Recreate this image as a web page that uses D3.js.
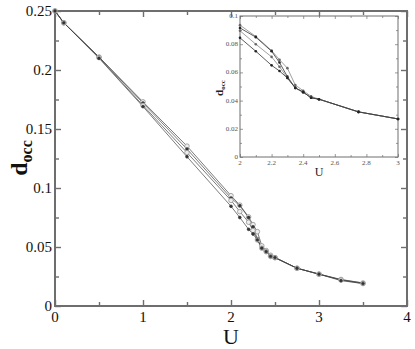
<!DOCTYPE html>
<html><head><meta charset="utf-8">
<script src="https://cdn.jsdelivr.net/npm/d3@7"></script>
<style>body{margin:0;background:#fff}svg{display:block}</style>
</head><body>
<script>
// ---- data ----
const uValues = [0, 0.1, 0.5, 1, 1.5, 2, 2.1, 2.2, 2.25, 2.3, 2.35, 2.4, 2.45, 2.5, 2.75, 3, 3.25, 3.5];
const seriesA = [0.25, 0.240, 0.211, 0.173, 0.1355, 0.0935, 0.0855, 0.0755, 0.069, 0.063, 0.051, 0.047, 0.043, 0.041, 0.032, 0.027, 0.0225, 0.0195];
const seriesB = [0.25, 0.240, 0.211, 0.172, 0.133, 0.0915, 0.085, 0.075, 0.067, 0.057, 0.049, 0.046, 0.042, 0.041, 0.032, 0.027, 0.0222, 0.0195];
const seriesC = [0.25, 0.240, 0.2105, 0.170, 0.130, 0.0895, 0.080, 0.071, 0.064, 0.056, 0.049, 0.046, 0.042, 0.041, 0.032, 0.027, 0.022, 0.019];
const seriesD = [0.25, 0.240, 0.210, 0.169, 0.1265, 0.0845, 0.075, 0.065, 0.061, 0.056, 0.049, 0.046, 0.042, 0.041, 0.032, 0.027, 0.0215, 0.019];
const seriesList = [seriesA, seriesB, seriesC, seriesD];
const mainXTicks = [0, 1, 2, 3, 4];
const mainYTicks = [0, 0.05, 0.1, 0.15, 0.2, 0.25];
const mainYTickLabels = ["0", "0.05", "0.1", "0.15", "0.2", "0.25"];
const insetXTicks = [2, 2.2, 2.4, 2.6, 2.8, 3];
const insetYTicks = [0, 0.02, 0.04, 0.06, 0.08, 0.1];

const W = 415, H = 349;
const svg = d3.select("body").append("svg").attr("width", W).attr("height", H);
const serif = "'Liberation Serif','DejaVu Serif',serif";
const frameCol = "#6e6e6e";

// ---- main plot ----
const L = 55, R = 407, T = 11, B = 306;
const x = d3.scaleLinear().domain([0, 4]).range([L, R]);
const y = d3.scaleLinear().domain([0, 0.25]).range([B, T]);

function frame(g, xs, ys, xMaj, xMin, yMaj, yMin, lenMaj, lenMin, sw) {
  const [x0, x1] = xs.range(), [y0, y1] = ys.range();
  g.append("g").attr("transform", `translate(0,${y0})`)
    .call(d3.axisBottom(xs).tickValues(xMin).tickSize(-lenMin).tickFormat(""));
  g.append("g").attr("transform", `translate(0,${y0})`)
    .call(d3.axisBottom(xs).tickValues(xMaj).tickSize(-lenMaj).tickFormat(""));
  g.append("g").attr("transform", `translate(0,${y1})`)
    .call(d3.axisTop(xs).tickValues(xMin).tickSize(-lenMin).tickFormat(""));
  g.append("g").attr("transform", `translate(0,${y1})`)
    .call(d3.axisTop(xs).tickValues(xMaj).tickSize(-lenMaj).tickFormat(""));
  g.append("g").attr("transform", `translate(${x0},0)`)
    .call(d3.axisLeft(ys).tickValues(yMin).tickSize(-lenMin).tickFormat(""));
  g.append("g").attr("transform", `translate(${x0},0)`)
    .call(d3.axisLeft(ys).tickValues(yMaj).tickSize(-lenMaj).tickFormat(""));
  g.append("g").attr("transform", `translate(${x1},0)`)
    .call(d3.axisRight(ys).tickValues(yMin).tickSize(-lenMin).tickFormat(""));
  g.append("g").attr("transform", `translate(${x1},0)`)
    .call(d3.axisRight(ys).tickValues(yMaj).tickSize(-lenMaj).tickFormat(""));
  g.selectAll(".domain").remove();
  g.selectAll(".tick line").attr("stroke", frameCol).attr("stroke-width", sw * 0.7);
  g.append("rect").attr("x", x0).attr("y", y1).attr("width", x1 - x0).attr("height", y0 - y1)
    .attr("fill", "none").attr("stroke", frameCol).attr("stroke-width", sw);
}

const gMain = svg.append("g");
frame(gMain, x, y, mainXTicks, [0.5, 1.5, 2.5, 3.5], mainYTicks, [0.025, 0.075, 0.125, 0.175, 0.225], 6, 4, 2);

gMain.selectAll(".xl").data(mainXTicks).enter().append("text")
  .attr("x", d => x(d)).attr("y", B + 16).attr("text-anchor", "middle")
  .attr("font-family", serif).attr("font-size", 15).attr("fill", "#111").text(d => d);
gMain.selectAll(".yl").data(mainYTicks).enter().append("text")
  .attr("x", L - 3).attr("y", d => y(d) + 5).attr("text-anchor", "end")
  .attr("font-family", serif).attr("font-size", 15).attr("fill", "#111")
  .text((d, i) => mainYTickLabels[i]);
svg.append("text").attr("x", x(2)).attr("y", 344).attr("text-anchor", "middle")
  .attr("font-family", serif).attr("font-size", 22).attr("fill", "#111").text("U");
const yl = svg.append("text").attr("transform", "translate(27,158) rotate(-90)")
  .attr("text-anchor", "middle").attr("font-family", serif).attr("font-weight", "bold")
  .attr("font-size", 24).attr("fill", "#111");
yl.append("tspan").text("d");
yl.append("tspan").attr("font-size", 16).attr("dy", 5).text("occ");

const lineMain = d3.line().x((d, i) => x(uValues[i])).y(d => y(d));
seriesList.forEach((s, k) => {
  gMain.append("path").attr("d", lineMain(s)).attr("fill", "none")
    .attr("stroke", "#444").attr("stroke-width", 0.7);
});
seriesList.forEach((s, k) => {
  gMain.selectAll(null).data(s).enter().append("circle")
    .attr("cx", (d, i) => x(uValues[i])).attr("cy", d => y(d)).attr("r", k % 2 ? 1.4 : 2.3)
    .attr("fill", k % 2 ? "#333" : "#eee").attr("stroke", k % 2 ? "#333" : "#888").attr("stroke-width", 0.7);
});

// ---- inset ----
const iL = 240, iR = 398, iT = 16, iB = 157;
const xi = d3.scaleLinear().domain([2, 3]).range([iL, iR]);
const yi = d3.scaleLinear().domain([0, 0.1]).range([iB, iT]);
const gIn = svg.append("g");
gIn.append("rect").attr("x", iL).attr("y", iT).attr("width", iR - iL).attr("height", iB - iT).attr("fill", "#fff");
frame(gIn, xi, yi, insetXTicks, [2.1, 2.3, 2.5, 2.7, 2.9], insetYTicks, [0.01, 0.03, 0.05, 0.07, 0.09], 3, 2, 1);
gIn.selectAll(".xl").data(insetXTicks).enter().append("text")
  .attr("x", d => xi(d)).attr("y", iB + 8).attr("text-anchor", "middle")
  .attr("font-family", serif).attr("font-size", 7).attr("fill", "#555").text(d => d3.format(".1f")(d).replace(".0", ""));
gIn.selectAll(".yl").data(insetYTicks).enter().append("text")
  .attr("x", iL - 2).attr("y", d => yi(d) + 2).attr("text-anchor", "end")
  .attr("font-family", serif).attr("font-size", 7).attr("fill", "#555").text(d => d === 0 ? "0" : d3.format(".2f")(d).replace("0.10", "0.1"));
svg.append("text").attr("x", xi(2.5)).attr("y", 176).attr("text-anchor", "middle")
  .attr("font-family", serif).attr("font-size", 12).attr("fill", "#222").text("U");
const yl2 = svg.append("text").attr("transform", "translate(223,88) rotate(-90)")
  .attr("text-anchor", "middle").attr("font-family", serif).attr("font-weight", "bold")
  .attr("font-size", 11).attr("fill", "#222");
yl2.append("tspan").text("d");
yl2.append("tspan").attr("font-size", 7).attr("dy", 2).text("occ");

const idx = uValues.map((u, i) => i).filter(i => uValues[i] >= 2 && uValues[i] <= 3);
const lineIn = d3.line().x(i => xi(uValues[i]));
seriesList.forEach((s, k) => {
  gIn.append("path").attr("d", lineIn.y(i => yi(s[i]))(idx)).attr("fill", "none")
    .attr("stroke", k % 2 ? "#333" : "#888").attr("stroke-width", 0.8);
});
seriesList.forEach((s, k) => {
  gIn.selectAll(null).data(idx).enter().append("circle")
    .attr("cx", i => xi(uValues[i])).attr("cy", i => yi(s[i])).attr("r", 1.3)
    .attr("fill", k % 2 ? "#222" : "#666");
});
</script>
</body></html>
